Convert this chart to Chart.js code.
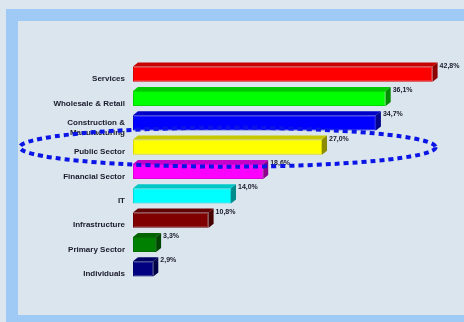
<!DOCTYPE html>
<html>
<head>
<meta charset="utf-8">
<script src="https://cdn.jsdelivr.net/npm/chart.js@4"></script>
<style>
  html, body { margin: 0; padding: 0; background: #dce6ef; }
  #wrap { width: 464px; height: 322px; position: relative; }
</style>
</head>
<body>
<div id="wrap"><canvas id="chart" width="464" height="322"></canvas></div>
<script>
// sectors and their share (%)
const categories = [
    "Services",
    "Wholesale & Retail",
    ["Construction &", "Manufacturing"],
    "Public Sector",
    "Financial Sector",
    "IT",
    "Infrastructure",
    "Primary Sector",
    "Individuals",
];
const shares = [42.8, 36.1, 34.7, 27.0, 18.6, 14.0, 10.8, 3.3, 2.9];
const barColors = ["#ff0000", "#00ff00", "#0000ff", "#ffff00", "#ff00ff", "#00ffff", "#800000", "#008000", "#000080"];
const highlightIndex = 3; // Public Sector gets the dotted ring

const DEPTH = { dx: 5, dy: 4 };

const shade = (hex, f) => {
    const n = parseInt(hex.slice(1), 16);
    const r = Math.round(((n >> 16) & 255) * f);
    const g = Math.round(((n >> 8) & 255) * f);
    const b = Math.round((n & 255) * f);
    return `rgb(${r},${g},${b})`;
};

const fmt = (v) => v.toFixed(1).replace(".", ",") + "%";

// frame + panel behind the chart
const framePlugin = {
    id: "frame",
    beforeDraw(chart) {
        const ctx = chart.ctx;
        ctx.save();
        ctx.fillStyle = "#dce6ef";
        ctx.fillRect(0, 0, chart.width, chart.height);
        ctx.fillStyle = "#9fcaf5";
        ctx.fillRect(6, 9, chart.width - 6, chart.height - 9);
        ctx.fillStyle = "#dae5ee";
        ctx.fillRect(18, 21, chart.width - 18, 294);
        ctx.restore();
    },
};

// 3D sides and value labels for every bar
const depthPlugin = {
    id: "depth",
    afterDatasetsDraw(chart) {
        const ctx = chart.ctx;
        const meta = chart.getDatasetMeta(0);
        ctx.save();
        meta.data.forEach((bar, i) => {
            const x0 = bar.base, x1 = bar.x;
            const top = bar.y - bar.height / 2, bottom = bar.y + bar.height / 2;
            const c = barColors[i];
            // top face
            ctx.fillStyle = shade(c, 0.78);
            ctx.beginPath();
            ctx.moveTo(x0, top);
            ctx.lineTo(x0 + DEPTH.dx, top - DEPTH.dy);
            ctx.lineTo(x1 + DEPTH.dx, top - DEPTH.dy);
            ctx.lineTo(x1, top);
            ctx.closePath();
            ctx.fill();
            // right face
            ctx.fillStyle = shade(c, 0.55);
            ctx.beginPath();
            ctx.moveTo(x1, top);
            ctx.lineTo(x1 + DEPTH.dx, top - DEPTH.dy);
            ctx.lineTo(x1 + DEPTH.dx, bottom - DEPTH.dy);
            ctx.lineTo(x1, bottom);
            ctx.closePath();
            ctx.fill();
            // value
            ctx.fillStyle = "#1a1a2a";
            ctx.font = "bold 7px 'Liberation Sans', Arial, sans-serif";
            ctx.textAlign = "left";
            ctx.textBaseline = "middle";
            ctx.fillText(fmt(shares[i]), x1 + DEPTH.dx + 2, top - 1);
        });
        ctx.restore();
    },
    afterDraw(chart) {
        // dotted ring around the highlighted sector
        const ctx = chart.ctx;
        const y = chart.scales.y.getPixelForValue(highlightIndex);
        const left = 20;
        const right = chart.scales.x.getPixelForValue(shares[0]) + 3;
        ctx.save();
        ctx.strokeStyle = "#0a14e6";
        ctx.lineWidth = 4;
        ctx.setLineDash([5, 4]);
        ctx.beginPath();
        ctx.ellipse((left + right) / 2, y, (right - left) / 2, 19.5, 0, 0, Math.PI * 2);
        ctx.stroke();
        ctx.restore();
    },
};

new Chart(document.getElementById("chart"), {
    type: "bar",
    data: {
        labels: categories,
        datasets: [{
            data: shares,
            backgroundColor: barColors,
            borderColor: barColors.map((c) => shade(c, 0.85)),
            borderWidth: 1,
            borderSkipped: false,
            barPercentage: 0.62,
            categoryPercentage: 1,
        }],
    },
    options: {
        indexAxis: "y",
        responsive: false,
        animation: false,
        layout: { padding: { top: 62, bottom: 41, right: 16, left: 0 } },
        plugins: {
            legend: { display: false },
            tooltip: { enabled: false },
        },
        scales: {
            x: {
                display: false,
                min: 0,
                max: 45,
            },
            y: {
                afterFit: (axis) => { axis.width = 133; },
                grid: { display: false, drawTicks: false },
                border: { display: false },
                ticks: {
                    padding: 8,
                    labelOffset: 5,
                    color: "#1a1a2a",
                    font: { family: "'Liberation Sans', Arial, sans-serif", size: 8, weight: "bold", lineHeight: 1.2 },
                },
            },
        },
    },
    plugins: [framePlugin, depthPlugin],
});
</script>
</body>
</html>
